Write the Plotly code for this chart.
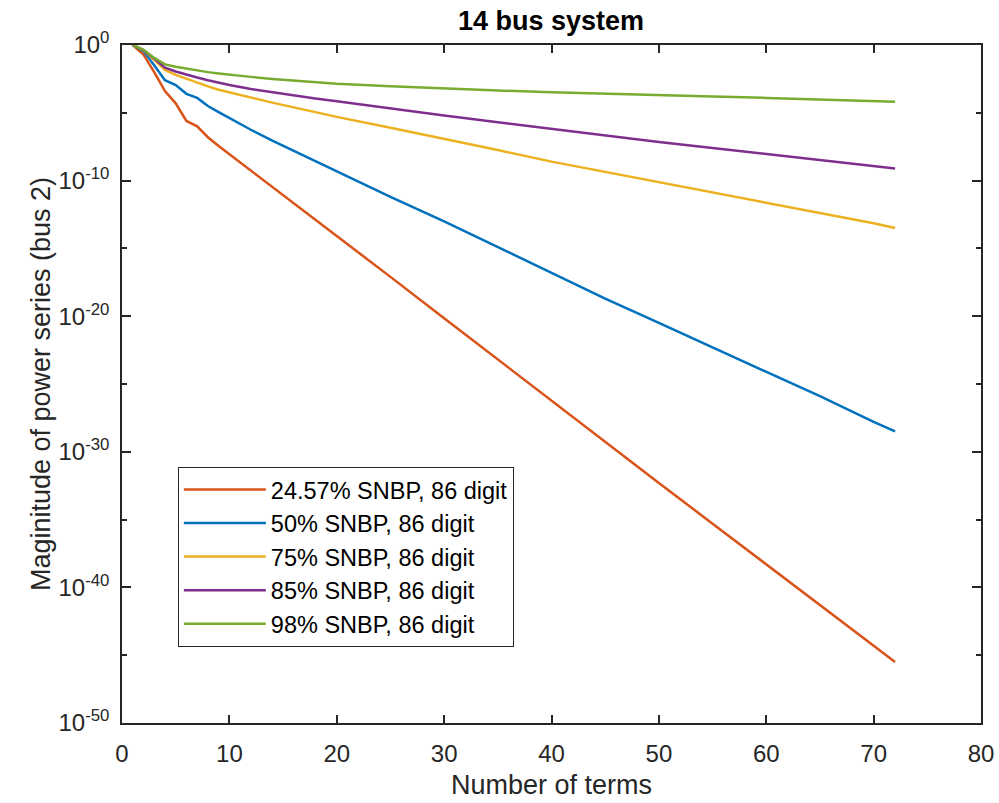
import plotly.graph_objects as go

# Number of terms (shared x for all series)
terms = [1, 2, 3, 4, 5, 6, 7, 8, 9, 10, 12, 14, 16, 18, 20, 25, 30, 35, 40, 45, 50, 55, 60, 65, 70, 72]

# log10 of the magnitude of the power-series terms (bus 2)
log_24_57 = [0, -0.7, -2.0, -3.4, -4.3, -5.6, -6.0, -6.8, -7.45, -8.05, -9.25, -10.45, -11.65, -12.85, -14.05,
             -17.1, -20.15, -23.2, -26.2, -29.3, -32.3, -35.3, -38.3, -41.3, -44.3, -45.5]
log_50 = [0, -0.45, -1.5, -2.6, -2.95, -3.6, -3.9, -4.5, -4.95, -5.4, -6.25, -7.05, -7.8, -8.55, -9.3,
          -11.2, -13.0, -14.9, -16.8, -18.7, -20.5, -22.3, -24.1, -25.9, -27.8, -28.5]
log_75 = [0, -0.4, -1.1, -1.84, -2.2, -2.5, -2.8, -3.05, -3.3, -3.5, -3.9, -4.25, -4.6, -4.97, -5.3,
          -6.1, -6.9, -7.75, -8.6, -9.35, -10.1, -10.85, -11.6, -12.4, -13.15, -13.5]
log_85 = [0, -0.38, -1.0, -1.67, -1.95, -2.2, -2.4, -2.6, -2.8, -2.95, -3.25, -3.5, -3.75, -3.95, -4.15,
          -4.7, -5.2, -5.7, -6.2, -6.68, -7.15, -7.6, -8.05, -8.5, -8.95, -9.1]
log_98 = [0, -0.35, -0.95, -1.43, -1.6, -1.75, -1.88, -2.0, -2.1, -2.2, -2.35, -2.5, -2.63, -2.75, -2.85,
          -3.05, -3.22, -3.36, -3.48, -3.6, -3.7, -3.8, -3.9, -4.0, -4.12, -4.18]

series_names = ["24.57% SNBP, 86 digit", "50% SNBP, 86 digit", "75% SNBP, 86 digit",
                "85% SNBP, 86 digit", "98% SNBP, 86 digit"]
series_logs = [log_24_57, log_50, log_75, log_85, log_98]
colors = ["#D95319", "#0072BD", "#EDB120", "#7E2F8E", "#77AC30"]

x_ticks = [0, 10, 20, 30, 40, 50, 60, 70, 80]
y_major = [1e0, 1e-10, 1e-20, 1e-30, 1e-40, 1e-50]
y_major_text = ["10<sup>0</sup>", "10<sup>-10</sup>", "10<sup>-20</sup>", "10<sup>-30</sup>",
                "10<sup>-40</sup>", "10<sup>-50</sup>"]
y_minor = [1e-5, 1e-15, 1e-25, 1e-35, 1e-45]

fig = go.Figure()
for name, logs, c in zip(series_names, series_logs, colors):
    fig.add_trace(go.Scatter(x=terms, y=[10 ** v for v in logs], mode="lines", name=name,
                             line=dict(color=c, width=2.5)))

axcol = "#262626"
fig.update_layout(
    width=999, height=803,
    margin=dict(l=122, r=18, t=45, b=80),
    paper_bgcolor="white", plot_bgcolor="white",
    font=dict(family="Liberation Sans, Arial, sans-serif", color=axcol, size=24),
    title=dict(text="<b>14 bus system</b>", x=0.5515, xanchor="center", y=0.975, yanchor="middle",
               font=dict(size=27, color="black")),
    showlegend=True,
    legend=dict(x=0.065, y=0.378, xanchor="left", yanchor="top",
                bordercolor="#262626", borderwidth=1, bgcolor="white",
                font=dict(size=23.5, color="black"), tracegroupgap=0, itemwidth=82),
)
fig.update_xaxes(range=[0, 80], tickmode="array", tickvals=x_ticks, automargin=False,
                 ticks="inside", ticklen=8, tickwidth=1.5, tickcolor=axcol, ticklabelstandoff=8,
                 showline=True, linecolor=axcol, linewidth=1.5, mirror="ticks",
                 showgrid=False, zeroline=False,
                 title=dict(text="Number of terms", font=dict(size=27), standoff=10),
                 tickfont=dict(size=24))
fig.update_yaxes(type="log", range=[-50, 0], tickmode="array", tickvals=y_major, ticktext=y_major_text,
                 automargin=False,
                 ticks="inside", ticklen=9, tickwidth=1.5, tickcolor=axcol, ticklabelstandoff=6,
                 minor=dict(tickmode="array", tickvals=y_minor, ticks="inside", ticklen=5,
                            tickwidth=1.5, tickcolor=axcol, showgrid=False),
                 showline=True, linecolor=axcol, linewidth=1.5, mirror="ticks",
                 showgrid=False, zeroline=False,
                 title=dict(text="Maginitude of power series (bus 2)", font=dict(size=27), standoff=0),
                 tickfont=dict(size=24))

fig.write_html("out.html")
